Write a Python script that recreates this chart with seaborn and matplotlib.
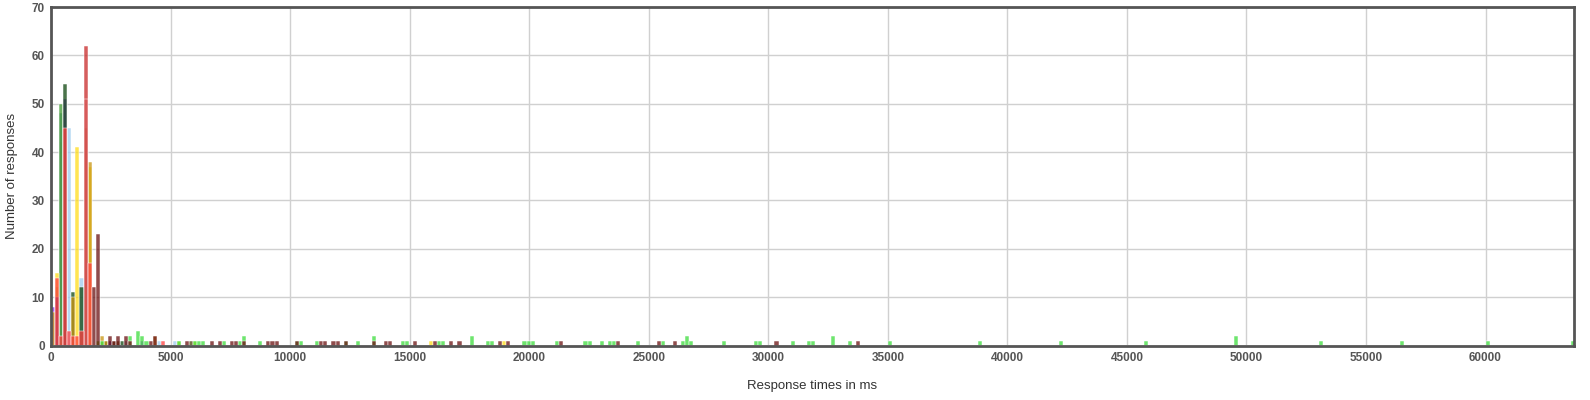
import numpy as np
import pandas as pd
import matplotlib
matplotlib.use("Agg")
import matplotlib.pyplot as plt
import seaborn as sns

# response times (ms) and number of responses per request series
red_ms = [280, 420, 590, 760, 930, 1100, 1270, 1600, 4680]
red_n = [14, 2, 45, 3, 2, 2, 3, 17, 1]

crimson_ms = [1480]
crimson_n = [62]

rose_ms = [1480]
rose_n = [51]

maroon_ms = [1760, 1900, 2470, 2650, 2870, 3160, 3330, 4100, 4280, 5660, 6680, 7070,
             7490, 7740, 7990, 9090, 9270, 9450, 10360, 11270, 11440, 11880, 12050,
             12270, 13570, 13980, 14260, 15180, 16070, 16670, 17060, 18780, 19070,
             21330, 23750, 25460, 26170, 30260, 33760]
maroon_n = [12, 23, 2, 1, 2, 2, 1, 1, 2, 1, 1, 1,
            1, 1, 1, 1, 1, 1, 1, 1, 1, 1, 1,
            1, 1, 1, 1, 1, 1, 1, 1, 1, 1,
            1, 1, 1, 1, 1, 1]

lightgreen_ms = [1950, 2200, 3390, 3670, 3860, 4030, 5390, 6060, 6230, 6400, 7200, 7830,
                 8080, 8670, 10200, 10500, 11170, 12400, 12870, 13570, 14740, 14920,
                 16270, 16480, 17560, 18260, 18430, 19780, 19970, 20160, 21180, 22290,
                 22460, 22960, 23340, 23580, 24630, 25650, 26480, 26650, 26850, 28160,
                 29550, 29730, 31060, 31670, 31950, 32770, 33460, 35160, 38770, 42250,
                 45760, 49540, 53040, 56550, 60040, 63640]
lightgreen_n = [1, 1, 2, 3, 2, 1, 1, 1, 1, 1, 1, 1,
                2, 1, 1, 1, 1, 1, 1, 2, 1, 1,
                1, 1, 2, 1, 1, 1, 1, 1, 1, 1,
                1, 1, 1, 1, 1, 1, 1, 2, 1, 1,
                1, 1, 1, 1, 1, 2, 1, 1, 1, 1,
                1, 2, 1, 1, 1, 1]

green_ms = [280, 480]
green_n = [12, 50]

darkgreen_ms = [600, 880, 1260, 2330, 3000]
darkgreen_n = [54, 11, 12, 1, 1]

yellow_ms = [280, 1090, 1560, 1900, 5280, 6000, 15930, 18920]
yellow_n = [15, 41, 37, 1, 1, 1, 1, 1]

lightblue_ms = [690, 860, 1220, 4490, 5120]
lightblue_n = [45, 7, 14, 1, 1]

paleblue_ms = [560]
paleblue_n = [50]

purple_ms = [150, 600, 3770]
purple_n = [8, 51, 1]

indigo_ms = [280, 2500]
indigo_n = [10, 1]

gold_ms = [150, 860, 1600, 2080, 2230, 4400]
gold_n = [7, 10, 38, 2, 1, 2]

brown_ms = [1480]
brown_n = [45]

pale_ms = [420]
pale_n = [42]

steel_ms = [480, 3100]
steel_n = [48, 1]

olive_ms = [2650, 2870, 5850]
olive_n = [1, 1, 1]

# listed bottom layer first
series = [
    ("pale", pale_ms, pale_n, "#f2b8a8"),
    ("steel", steel_ms, steel_n, "#5d8ca8"),
    ("green", green_ms, green_n, "#3f9a30"),
    ("paleblue", paleblue_ms, paleblue_n, "#b8dcf5"),
    ("lightblue", lightblue_ms, lightblue_n, "#9fcdf0"),
    ("purple", purple_ms, purple_n, "#8a2be8"),
    ("darkgreen", darkgreen_ms, darkgreen_n, "#0e450e"),
    ("yellow", yellow_ms, yellow_n, "#ffdd1a"),
    ("gold", gold_ms, gold_n, "#c99510"),
    ("brown", brown_ms, brown_n, "#a06a1a"),
    ("indigo", indigo_ms, indigo_n, "#33118a"),
    ("olive", olive_ms, olive_n, "#4a4608"),
    ("lightgreen", lightgreen_ms, lightgreen_n, "#3ddd3d"),
    ("crimson", crimson_ms, crimson_n, "#c82828"),
    ("rose", rose_ms, rose_n, "#d95a5a"),
    ("red", red_ms, red_n, "#ff4040"),
    ("maroon", maroon_ms, maroon_n, "#6a1010"),
]

rows = []
for name, ms, n, _ in series:
    for t, c in zip(ms, n):
        rows.append({"request": name, "ms": t, "count": c})
df = pd.DataFrame(rows)
palette = {name: col for name, _, _, col in series}
# seaborn draws the first hue level on top, so reverse
order = [s[0] for s in series][::-1]

sns.set_style("whitegrid")
plt.rcParams["font.family"] = ["Liberation Sans", "DejaVu Sans"]

fig = plt.figure(figsize=(15.9, 4.0), dpi=100)
ax = fig.add_axes([51 / 1590, 1 - 345.5 / 400, (1574 - 51) / 1590, (345.5 - 7) / 400])

sns.histplot(data=df, x="ms", weights="count", hue="request", hue_order=order,
             palette=palette, binwidth=170, binrange=(0, 63750), multiple="layer",
             element="bars", fill=True, alpha=0.75, edgecolor="white",
             linewidth=0.35, legend=False, ax=ax)

ax.set_xlim(0, 63700)
ax.set_ylim(0, 70)
ax.set_xticks(np.arange(0, 60001, 5000))
ax.set_yticks(np.arange(0, 71, 10))
ax.grid(True, color="#d0d0d0", linewidth=1)
ax.set_axisbelow(True)
for sp in ax.spines.values():
    sp.set_visible(True)
    sp.set_color("#555555")
    sp.set_linewidth(2)
ax.tick_params(length=0, pad=4.5, labelsize=8.5, labelcolor="#555555")
for lbl in ax.get_xticklabels() + ax.get_yticklabels():
    lbl.set_fontweight("bold")
ax.set_xlabel("Response times in ms", fontsize=9.5, color="#333333", labelpad=12)
ax.set_ylabel("Number of responses", fontsize=9.5, color="#333333", labelpad=10)

fig.savefig("out.png", dpi=100)
